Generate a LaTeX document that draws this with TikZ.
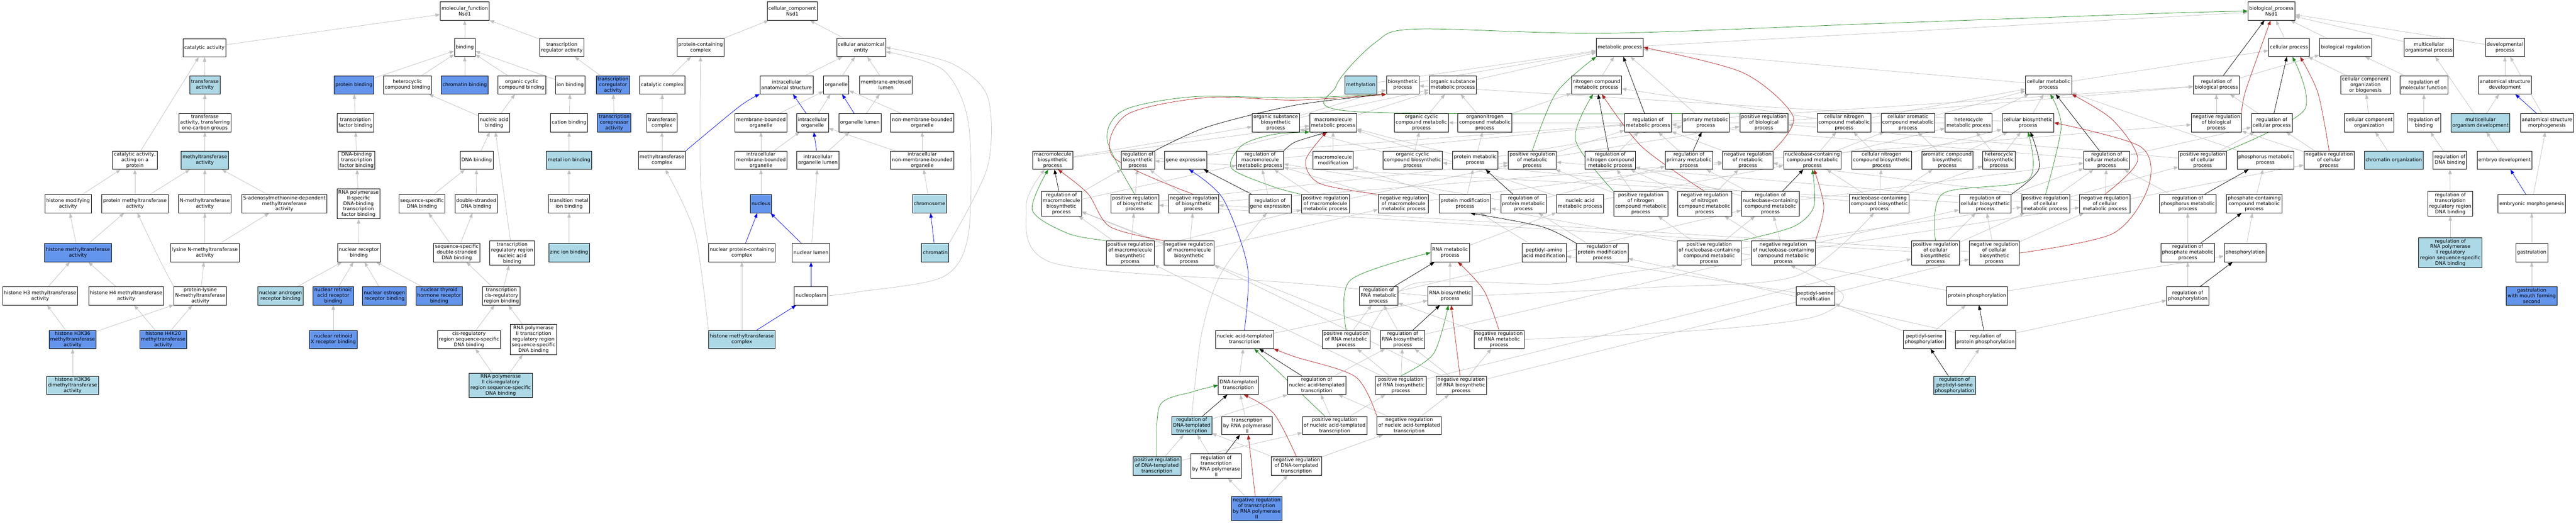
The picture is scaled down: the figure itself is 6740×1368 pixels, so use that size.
\documentclass[tikz,border=0pt]{standalone}
\usepackage{fontspec}
\setmainfont{DejaVu Sans}
\usetikzlibrary{arrows.meta}
\definecolor{lightb}{HTML}{ADD8E6}
\definecolor{cornb}{HTML}{6495ED}
\definecolor{edgegray}{HTML}{C0C0C0}
\definecolor{fgreen}{HTML}{228B22}
\definecolor{fred}{HTML}{B22222}
\pgfdeclarelayer{back}
\pgfdeclarelayer{edges}
\pgfsetlayers{back,edges,main}

\begin{document}
\begin{tikzpicture}[x=1pt,y=-1pt,>={Triangle[length=12pt,width=9pt]},
  term/.style={draw,line width=1pt,fill=white,align=center,inner xsep=3.5pt,inner ysep=1pt,minimum height=48pt,font=\fontsize{12.7}{14.8}\selectfont},
  tall/.style={minimum height=64pt},taller/.style={minimum height=79pt},
  lb/.style={fill=lightb},cb/.style={fill=cornb},
  isa/.style={->,draw=edgegray,line width=1pt},
  partof/.style={->,draw=blue,line width=1pt},
  reg/.style={->,draw=black,line width=1pt},
  preg/.style={->,draw=fgreen,line width=1pt},
  nreg/.style={->,draw=fred,line width=1pt}]
\begin{pgfonlayer}{back}
\fill[white] (0,0) rectangle (6740,1368);
\end{pgfonlayer}
\useasboundingbox (0,0) rectangle (6740,1368);

\node[term] (mf) at (1216,29) {molecular\_function\\Nsd1};
\node[term] (cat) at (535,125) {catalytic activity};
\node[term] (bind) at (1216,124) {binding};
\node[term] (trreg) at (1470,124) {transcription\\regulator activity};
\node[term,lb] (trf) at (536,222) {transferase\\activity};
\node[term,cb] (pbind) at (926,222) {protein binding};
\node[term] (hetb) at (1066,222) {heterocyclic\\compound binding};
\node[term,cb] (chrb) at (1216,222) {chromatin binding};
\node[term] (ocb) at (1365,222) {organic cyclic\\compound binding};
\node[term] (ionb) at (1492,222) {ion binding};
\node[term,cb] (coreg) at (1604,222) {transcription\\coregulator\\activity};
\node[term] (onec) at (536,321) {transferase\\activity, transferring\\one-carbon groups};
\node[term] (tfb) at (930,321) {transcription\\factor binding};
\node[term] (nab) at (1293,321) {nucleic acid\\binding};
\node[term] (catb) at (1489,321) {cation binding};
\node[term,cb] (corep) at (1607,321) {transcription\\corepressor\\activity};
\node[term] (catp) at (353,419) {catalytic activity,\\acting on a\\protein};
\node[term,lb] (mtase) at (536,419) {methyltransferase\\activity};
\node[term] (dtfb) at (933,419) {DNA-binding\\transcription\\factor binding};
\node[term] (dnab) at (1247,419) {DNA binding};
\node[term,lb] (metb) at (1489,419) {metal ion binding};
\node[term] (hmod) at (178,533) {histone modifying\\activity};
\node[term] (pmt) at (353,533) {protein methyltransferase\\activity};
\node[term] (nmt) at (536,533) {N-methyltransferase\\activity};
\node[term] (sam) at (744,533) {S-adenosylmethionine-dependent\\methyltransferase\\activity};
\node[term,taller] (p2tfb) at (938,533) {RNA polymerase\\II-specific\\DNA-binding\\transcription\\factor binding};
\node[term] (ssdna) at (1104,533) {sequence-specific\\DNA binding};
\node[term] (dsdna) at (1246,533) {double-stranded\\DNA binding};
\node[term] (tmb) at (1489,533) {transition metal\\ion binding};
\node[term,cb] (hmt) at (204,661) {histone methyltransferase\\activity};
\node[term] (knmt) at (536,661) {lysine N-methyltransferase\\activity};
\node[term] (nrb) at (939,661) {nuclear receptor\\binding};
\node[term] (ssds) at (1195,661) {sequence-specific\\double-stranded\\DNA binding};
\node[term,tall] (trrna) at (1340,662) {transcription\\regulatory region\\nucleic acid\\binding};
\node[term,lb] (znb) at (1489,661) {zinc ion binding};
\node[term] (h3mt) at (105,774) {histone H3 methyltransferase\\activity};
\node[term] (h4mt) at (330,774) {histone H4 methyltransferase\\activity};
\node[term] (pknmt) at (524,774) {protein-lysine\\N-methyltransferase\\activity};
\node[term,lb] (narb) at (734,774) {nuclear androgen\\receptor binding};
\node[term,cb] (rarb) at (872,774) {nuclear retinoic\\acid receptor\\binding};
\node[term,cb] (erb) at (1006,774) {nuclear estrogen\\receptor binding};
\node[term,cb] (trb) at (1149,774) {nuclear thyroid\\hormone receptor\\binding};
\node[term] (cisb) at (1312,774) {transcription\\cis-regulatory\\region binding};
\node[term,cb] (h3k36) at (190,888) {histone H3K36\\methyltransferase\\activity};
\node[term,cb] (h4k20) at (427,888) {histone H4K20\\methyltransferase\\activity};
\node[term,cb] (rxrb) at (872,888) {nuclear retinoid\\X receptor binding};
\node[term] (crss) at (1227,888) {cis-regulatory\\region sequence-specific\\DNA binding};
\node[term,taller] (p2rr) at (1396,888) {RNA polymerase\\II transcription\\regulatory region\\sequence-specific\\DNA binding};
\node[term,lb] (h3k36d) at (190,1008) {histone H3K36\\dimethyltransferase\\activity};
\node[term,lb,tall] (p2cis) at (1310,1008) {RNA polymerase\\II cis-regulatory\\region sequence-specific\\DNA binding};

\node[term] (cc) at (2073,29) {cellular\_component\\Nsd1};
\node[term] (pcc) at (1833,124) {protein-containing\\complex};
\node[term] (cae) at (2253,124) {cellular anatomical\\entity};
\node[term] (catc) at (1733,222) {catalytic complex};
\node[term] (ias) at (2058,222) {intracellular\\anatomical structure};
\node[term] (org) at (2188,222) {organelle};
\node[term] (mel) at (2318,222) {membrane-enclosed\\lumen};
\node[term] (trfc) at (1732,321) {transferase\\complex};
\node[term] (mbo) at (1991,321) {membrane-bounded\\organelle};
\node[term] (io) at (2126,321) {intracellular\\organelle};
\node[term] (ol) at (2250,321) {organelle lumen};
\node[term] (nmbo) at (2413,321) {non-membrane-bounded\\organelle};
\node[term] (mtc) at (1732,419) {methyltransferase\\complex};
\node[term] (imbo) at (1991,419) {intracellular\\membrane-bounded\\organelle};
\node[term] (iol) at (2140,419) {intracellular\\organelle lumen};
\node[term] (inmbo) at (2413,419) {intracellular\\non-membrane-bounded\\organelle};
\node[term,cb] (nuc) at (1991,533) {nucleus};
\node[term,lb] (chrm) at (2432,533) {chromosome};
\node[term] (npcc) at (1941,661) {nuclear protein-containing\\complex};
\node[term] (nl) at (2122,661) {nuclear lumen};
\node[term,lb] (chrt) at (2447,661) {chromatin};
\node[term] (npl) at (2122,774) {nucleoplasm};
\node[term,lb] (hmtc) at (1941,888) {histone methyltransferase\\complex};

\node[term] (bp) at (5943,29) {biological\_process\\Nsd1};
\node[term] (mp) at (4238,124) {metabolic process};
\node[term] (cp) at (5989,124) {cellular process};
\node[term] (br) at (6137,124) {biological regulation};
\node[term] (mop) at (6355,124) {multicellular\\organismal process};
\node[term] (dp) at (6554,124) {developmental\\process};
\node[term,lb] (meth) at (3560,222) {methylation};
\node[term] (bsp) at (3670,222) {biosynthetic\\process};
\node[term] (osmp) at (3801,222) {organic substance\\metabolic process};
\node[term] (ncmp) at (4177,222) {nitrogen compound\\metabolic process};
\node[term] (cmp) at (5360,222) {cellular metabolic\\process};
\node[term] (rbp) at (5799,222) {regulation of\\biological process};
\node[term] (ccob) at (6189,222) {cellular component\\organization\\or biogenesis};
\node[term] (rmf) at (6342,222) {regulation of\\molecular function};
\node[term] (asd) at (6554,222) {anatomical structure\\development};
\node[term] (osbp) at (3338,321) {organic substance\\biosynthetic\\process};
\node[term] (mmp) at (3488,321) {macromolecule\\metabolic process};
\node[term] (occmp) at (3719,321) {organic cyclic\\compound metabolic\\process};
\node[term] (oncmp) at (3885,321) {organonitrogen\\compound metabolic\\process};
\node[term] (rmp) at (4312,321) {regulation of\\metabolic process};
\node[term] (pmp) at (4463,321) {primary metabolic\\process};
\node[term] (prbp) at (4615,321) {positive regulation\\of biological\\process};
\node[term] (cncmp) at (4825,321) {cellular nitrogen\\compound metabolic\\process};
\node[term] (cacmp) at (4992,321) {cellular aromatic\\compound metabolic\\process};
\node[term] (hcmp) at (5151,321) {heterocycle\\metabolic process};
\node[term] (cbp) at (5306,321) {cellular biosynthetic\\process};
\node[term] (nrbp) at (5799,321) {negative regulation\\of biological\\process};
\node[term] (rcp) at (5944,321) {regulation of\\cellular process};
\node[term] (cco) at (6199,321) {cellular component\\organization};
\node[term] (rbind) at (6342,321) {regulation of\\binding};
\node[term,lb] (mod) at (6490,321) {multicellular\\organism development};
\node[term] (asm) at (6664,321) {anatomical structure\\morphogenesis};
\node[term] (mbp) at (2754,419) {macromolecule\\biosynthetic\\process};
\node[term] (rbsp) at (2977,419) {regulation of\\biosynthetic\\process};
\node[term] (ge) at (3102,419) {gene expression};
\node[term] (rmmp) at (3297,419) {regulation of\\macromolecule\\metabolic process};
\node[term] (mmod) at (3488,419) {macromolecule\\modification};
\node[term] (occbp) at (3696,419) {organic cyclic\\compound biosynthetic\\process};
\node[term] (protmp) at (3860,419) {protein metabolic\\process};
\node[term] (prmp) at (4009,419) {positive regulation\\of metabolic\\process};
\node[term] (rncmp) at (4213,419) {regulation of\\nitrogen compound\\metabolic process};
\node[term] (rpmp) at (4419,419) {regulation of\\primary metabolic\\process};
\node[term] (nrmp) at (4573,419) {negative regulation\\of metabolic\\process};
\node[term] (nbcmp) at (4742,419) {nucleobase-containing\\compound metabolic\\process};
\node[term] (cncbp) at (4923,419) {cellular nitrogen\\compound biosynthetic\\process};
\node[term] (acbp) at (5095,419) {aromatic compound\\biosynthetic\\process};
\node[term] (hcbp) at (5230,419) {heterocycle\\biosynthetic\\process};
\node[term] (rcmp) at (5512,419) {regulation of\\cellular metabolic\\process};
\node[term] (prcp) at (5763,419) {positive regulation\\of cellular\\process};
\node[term] (phmp) at (5927,419) {phosphorus metabolic\\process};
\node[term] (nrcp) at (6094,419) {negative regulation\\of cellular\\process};
\node[term,lb] (chro) at (6263,419) {chromatin organization};
\node[term] (rdnab) at (6410,419) {regulation of\\DNA binding};
\node[term] (ed) at (6553,419) {embryo development};
\node[term,tall] (rmbp) at (2777,533) {regulation of\\macromolecule\\biosynthetic\\process};
\node[term] (prbsp) at (2969,533) {positive regulation\\of biosynthetic\\process};
\node[term] (nrbsp) at (3123,533) {negative regulation\\of biosynthetic\\process};
\node[term] (rge) at (3323,533) {regulation of\\gene expression};
\node[term] (prmmp) at (3468,533) {positive regulation\\of macromolecule\\metabolic process};
\node[term] (nrmmp) at (3672,533) {negative regulation\\of macromolecule\\metabolic process};
\node[term] (pmod) at (3833,533) {protein modification\\process};
\node[term] (rprotmp) at (3986,533) {regulation of\\protein metabolic\\process};
\node[term] (namp) at (4134,533) {nucleic acid\\metabolic process};
\node[term,tall] (prncmp) at (4293,533) {positive regulation\\of nitrogen\\compound metabolic\\process};
\node[term,tall] (nrncmp) at (4460,533) {negative regulation\\of nitrogen\\compound metabolic\\process};
\node[term,tall] (rnbc) at (4632,533) {regulation of\\nucleobase-containing\\compound metabolic\\process};
\node[term] (nbcbp) at (4917,533) {nucleobase-containing\\compound biosynthetic\\process};
\node[term] (rcbp) at (5194,533) {regulation of\\cellular biosynthetic\\process};
\node[term] (prcmp) at (5352,533) {positive regulation\\of cellular\\metabolic process};
\node[term] (nrcmp) at (5507,533) {negative regulation\\of cellular\\metabolic process};
\node[term] (rphmp) at (5724,533) {regulation of\\phosphorus metabolic\\process};
\node[term] (phcmp) at (5898,533) {phosphate-containing\\compound metabolic\\process};
\node[term,tall] (rtrdb) at (6411,533) {regulation of\\transcription\\regulatory region\\DNA binding};
\node[term] (emm) at (6624,533) {embryonic morphogenesis};
\node[term,tall] (prmbp) at (2957,662) {positive regulation\\of macromolecule\\biosynthetic\\process};
\node[term,tall] (nrmbp) at (3111,662) {negative regulation\\of macromolecule\\biosynthetic\\process};
\node[term] (rnamp) at (3794,661) {RNA metabolic\\process};
\node[term] (paam) at (4040,661) {peptidyl-amino\\acid modification};
\node[term] (rpmod) at (4192,661) {regulation of\\protein modification\\process};
\node[term,tall] (prnbc) at (4472,662) {positive regulation\\of nucleobase-containing\\compound metabolic\\process};
\node[term,tall] (nrnbc) at (4666,662) {negative regulation\\of nucleobase-containing\\compound metabolic\\process};
\node[term,tall] (prcbp) at (5064,662) {positive regulation\\of cellular\\biosynthetic\\process};
\node[term,tall] (nrcbp) at (5218,662) {negative regulation\\of cellular\\biosynthetic\\process};
\node[term] (rphosm) at (5724,661) {regulation of\\phosphate metabolic\\process};
\node[term] (phos) at (5874,661) {phosphorylation};
\node[term,lb,taller] (rp2) at (6411,661) {regulation of\\RNA polymerase\\II regulatory\\region sequence-specific\\DNA binding};
\node[term] (gast) at (6624,661) {gastrulation};
\node[term] (rrnamp) at (3607,774) {regulation of\\RNA metabolic\\process};
\node[term] (rnabp) at (3794,774) {RNA biosynthetic\\process};
\node[term] (psm) at (4750,774) {peptidyl-serine\\modification};
\node[term] (pphos) at (5173,774) {protein phosphorylation};
\node[term] (rphos) at (5724,774) {regulation of\\phosphorylation};
\node[term,cb] (gmfs) at (6624,774) {gastrulation\\with mouth forming\\second};
\node[term] (natt) at (3256,888) {nucleic acid-templated\\transcription};
\node[term] (prrnamp) at (3522,888) {positive regulation\\of RNA metabolic\\process};
\node[term] (rrnabp) at (3670,888) {regulation of\\RNA biosynthetic\\process};
\node[term] (nrrnamp) at (3922,888) {negative regulation\\of RNA metabolic\\process};
\node[term] (psp) at (5035,888) {peptidyl-serine\\phosphorylation};
\node[term] (rpphos) at (5195,888) {regulation of\\protein phosphorylation};
\node[term] (dtt) at (3240,1008) {DNA-templated\\transcription};
\node[term] (rnatt) at (3445,1008) {regulation of\\nucleic acid-templated\\transcription};
\node[term] (prrnabp) at (3665,1008) {positive regulation\\of RNA biosynthetic\\process};
\node[term] (nrrnabp) at (3823,1008) {negative regulation\\of RNA biosynthetic\\process};
\node[term,lb] (rpsp) at (5114,1008) {regulation of\\peptidyl-serine\\phosphorylation};
\node[term,lb] (rdtt) at (3118,1113) {regulation of\\DNA-templated\\transcription};
\node[term] (tp2) at (3263,1113) {transcription\\by RNA polymerase\\II};
\node[term] (prnatt) at (3492,1113) {positive regulation\\of nucleic acid-templated\\transcription};
\node[term] (nrnatt) at (3687,1113) {negative regulation\\of nucleic acid-templated\\transcription};
\node[term,lb] (prdtt) at (3027,1219) {positive regulation\\of DNA-templated\\transcription};
\node[term,tall] (rtp2) at (3182,1219) {regulation of\\transcription\\by RNA polymerase\\II};
\node[term] (nrdtt) at (3392,1219) {negative regulation\\of DNA-templated\\transcription};
\node[term,cb,tall] (nrtp2) at (3288,1330) {negative regulation\\of transcription\\by RNA polymerase\\II};

\begin{pgfonlayer}{edges}
\foreach \a/\b in {cat/mf,bind/mf,trreg/mf,trf/cat,catp/cat,pbind/bind,hetb/bind,chrb/bind,ocb/bind,ionb/bind,
  coreg/trreg,corep/coreg,onec/trf,mtase/onec,hmod/catp,pmt/catp,pmt/mtase,nmt/mtase,sam/mtase,hmt/hmod,hmt/pmt,
  knmt/nmt,knmt/sam,pknmt/knmt,h3mt/hmt,h4mt/hmt,h3k36/h3mt,h3k36/pknmt,h4k20/h4mt,h4k20/pknmt,h3k36d/h3k36,
  tfb/pbind,dtfb/tfb,p2tfb/dtfb,nrb/p2tfb,narb/nrb,rarb/nrb,erb/nrb,trb/nrb,rxrb/rarb,nab/hetb,nab/ocb,
  catb/ionb,metb/catb,tmb/metb,znb/tmb,dnab/nab,ssdna/dnab,dsdna/dnab,ssds/ssdna,ssds/dsdna,trrna/nab,
  cisb/ssds,cisb/trrna,crss/cisb,p2rr/cisb,p2cis/crss,p2cis/p2rr}
  \draw[isa] (\a) -- (\b);
\foreach \a/\b in {pcc/cc,cae/cc,catc/pcc,trfc/catc,mtc/trfc,ias/cae,org/cae,mel/cae,mbo/org,io/org,nmbo/org,
  ol/mel,imbo/mbo,imbo/io,iol/ol,inmbo/nmbo,inmbo/io,nuc/imbo,chrm/inmbo,nl/iol,hmtc/npcc}
  \draw[isa] (\a) -- (\b);
\foreach \a/\b in {mp/bp,cp/bp,br/bp,mop/bp,dp/bp,meth/mp,bsp/mp,osmp/mp,ncmp/mp,pmp/mp,cmp/mp,cmp/cp,
  rbp/br,prbp/rbp,nrbp/rbp,ccob/cp,rmf/br,asd/dp,cco/ccob,rbind/rmf,mod/mop,mod/asd,asm/dp,rcp/rbp,prcp/rcp,
  prcp/prbp,nrcp/rcp,nrcp/nrbp,chro/cco,rdnab/rbind,rtrdb/rdnab,rp2/rtrdb,ed/mod,emm/asm,gast/emm,gmfs/gast,
  osbp/bsp,osbp/osmp,mmp/osmp,occmp/osmp,oncmp/osmp,oncmp/ncmp,rmp/rbp,mbp/mmp,mbp/osbp,rbsp/rmp,ge/mmp,
  rmmp/rmp,mmod/mmp,occbp/occmp,occbp/osbp,protmp/oncmp,protmp/mmp,protmp/pmp,prmp/rmp,prmp/prbp,rncmp/rmp,
  rpmp/rmp,nrmp/rmp,nrmp/nrbp,cncmp/ncmp,cncmp/cmp,cacmp/cmp,hcmp/cmp,hcmp/occmp,cbp/cmp,cbp/bsp,
  nbcmp/cncmp,nbcmp/cacmp,nbcmp/hcmp,cncbp/cncmp,cncbp/cbp,acbp/cacmp,acbp/cbp,hcbp/hcmp,hcbp/cbp,
  rcmp/rmp,rcmp/rcp,phmp/cmp,rmbp/rbsp,rmbp/rmmp,prbsp/rbsp,prbsp/prmp,nrbsp/rbsp,nrbsp/nrmp,rge/rmmp,
  prmmp/rmmp,prmmp/prmp,nrmmp/rmmp,nrmmp/nrmp,pmod/protmp,pmod/mmod,rprotmp/rmmp,rprotmp/rpmp,namp/nbcmp,
  namp/mmp,prncmp/rncmp,prncmp/prmp,nrncmp/rncmp,nrncmp/nrmp,rnbc/rcmp,rnbc/rncmp,rnbc/rpmp,nbcbp/nbcmp,
  nbcbp/cncbp,nbcbp/acbp,nbcbp/hcbp,nbcbp/occbp,rcbp/rcmp,rcbp/rbsp,prcmp/rcmp,prcmp/prmp,prcmp/prcp,
  nrcmp/rcmp,nrcmp/nrmp,nrcmp/nrcp,rphmp/rcmp,phcmp/phmp,prmbp/rmbp,prmbp/prbsp,prmbp/prmmp,nrmbp/rmbp,
  nrmbp/nrbsp,nrmbp/nrmmp,rnamp/namp,paam/pmod,rpmod/rprotmp,prnbc/rnbc,prnbc/prncmp,prnbc/prcmp,
  nrnbc/rnbc,nrnbc/nrncmp,nrnbc/nrcmp,prcbp/rcbp,prcbp/prcmp,prcbp/prbsp,nrcbp/rcbp,nrcbp/nrcmp,nrcbp/nrbsp,
  rphosm/rphmp,phos/phcmp,rrnamp/rnbc,rnabp/rnamp,psm/paam,pphos/pmod,pphos/phos,rphos/rphosm,
  natt/rnabp,prrnamp/rrnamp,rrnabp/rrnamp,rrnabp/rcbp,rrnabp/rmbp,nrrnamp/rrnamp,
  psp/psm,psp/pphos,rpphos/rphos,rpphos/rpmod,dtt/natt,rnatt/rrnabp,prrnabp/rrnabp,prrnabp/prrnamp,
  prrnabp/prcbp,prrnabp/prmbp,nrrnabp/rrnabp,nrrnabp/nrrnamp,nrrnabp/nrcbp,nrrnabp/nrmbp,rpsp/rpphos,
  rdtt/rnatt,tp2/dtt,prnatt/rnatt,prnatt/prrnabp,nrnatt/rnatt,nrnatt/nrrnabp,prdtt/rdtt,prdtt/prnatt,
  rtp2/rdtt,nrdtt/rdtt,nrdtt/nrnatt,nrtp2/rtp2,nrtp2/nrdtt}
  \draw[isa] (\a) -- (\b);
\draw[isa] plot[smooth] coordinates {(pknmt.north west) (418,680) (pmt.-75)};
\draw[isa] plot[smooth] coordinates {(npcc.north west) (1833,471) (pcc.south)};
\draw[isa] plot[smooth] coordinates {(hmtc.north west) (1818,611) (mtc.-70)};
\draw[isa] plot[smooth] coordinates {(chrt.north east) (2584,436) (2584,253) (2490,166) (cae.east)};
\draw[isa] plot[smooth] coordinates {(npl.east) (2250,763) (2468,724) (2534,611) (2534,323) (2468,183) (cae.-10)};
\draw[isa] plot[smooth] coordinates {(rnabp.west) (3380,740) (2759,689) (2685,541) (mbp.-130)};
\draw[isa] plot[smooth] coordinates {(rdtt.north) (3144,873) (3195,715) (rge.-110)};
\draw[isa] plot[smooth] coordinates {(rnabp.east) (4320,752) (4700,722) (nbcbp.-120)};
\draw[isa] plot[smooth] coordinates {(nrrnamp.east) (4325,872) (4593,852) (4760,825) (4822,770) (nrnbc.-60)};
\draw[isa] plot[smooth] coordinates {(prrnamp.north east) (3700,742) (4057,743) (4236,716) (prnbc.south west)};

\foreach \a/\b in {io/ias,ol/org,iol/io,npcc/nuc,nl/nuc,npl/nl,hmtc/npl,chrt/chrm,asm/asd,emm/ed}
  \draw[partof] (\a) -- (\b);
\draw[partof] plot[smooth] coordinates {(mtc.north east) (1934,279) (ias.south west)};
\draw[partof] plot[smooth] coordinates {(natt.north) (3264,698) (3200,520) (ge.-70)};

\foreach \a/\b in {rbp/bp,rcp/cp,rmp/mp,rncmp/ncmp,rpmp/pmp,rprotmp/protmp,rmbp/mbp,rge/ge,rrnamp/rnamp,
  rrnabp/rnabp,rnatt/natt,rdtt/dtt,rtp2/tp2,rnbc/nbcmp,rcmp/cmp,rphmp/phmp,rphosm/phcmp,rphos/phos,
  rpphos/pphos,rpsp/psp}
  \draw[reg] (\a) -- (\b);
\draw[reg] plot[smooth] coordinates {(rbsp.north east) (3159,332) (3390,275) (bsp.south west)};
\draw[reg] plot[smooth] coordinates {(rmmp.north east) (3390,371) (mmp.-120)};
\draw[reg] plot[smooth] coordinates {(rcbp.north east) (5335,441) (cbp.-75)};
\draw[reg] plot[smooth] coordinates {(rpmod.north west) (4034,593) (pmod.-60)};

\draw[preg] (prnatt) -- (natt);
\draw[preg] plot[smooth] coordinates {(prbp.north west) (3547,292) (3496,225) (3600,110) (3707,76) (4200,87) (4900,62) (5650,35) (bp.west)};
\draw[preg] plot[smooth] coordinates {(prmmp.north west) (3330,488) (3222,440) (3250,380) (3330,352) (mmp.south west)};
\draw[preg] plot[smooth] coordinates {(prbsp.north) (2897,366) (2941,288) (3123,253) (3390,256) (bsp.south west)};
\draw[preg] plot[smooth] coordinates {(prmbp.north west) (2795,611) (2701,550) (mbp.-115)};
\draw[preg] plot[smooth] coordinates {(prdtt.north) (3035,1060) (3120,1025) (dtt.west)};
\draw[preg] plot[smooth] coordinates {(prmp.north) (4071,244) (mp.south west)};
\draw[preg] plot[smooth] coordinates {(prncmp.north west) (4122,366) (ncmp.-110)};
\draw[preg] plot[smooth] coordinates {(prrnamp.north) (3533,733) (rnamp.west)};
\draw[preg] plot[smooth] coordinates {(prrnabp.north) (3751,925) (rnabp.-100)};
\draw[preg] plot[smooth] coordinates {(prnbc.north east) (4692,593) (4746,540) (nbcmp.south)};
\draw[preg] plot[smooth] coordinates {(prcbp.north) (5084,506) (5306,471) (cbp.south)};
\draw[preg] plot[smooth] coordinates {(prcmp.north) (5393,332) (cmp.-80)};
\draw[preg] plot[smooth] coordinates {(prcp.north east) (6029,288) (cp.-70)};

\draw[nreg] (nrtp2) -- (tp2);
\draw[nreg] (nrrnabp) -- (rnabp);
\draw[nreg] plot[smooth] coordinates {(nrbp.north east) (5876,236) (bp.-95)};
\draw[nreg] plot[smooth] coordinates {(nrmmp.north west) (3453,480) (3416,420) (mmp.-125)};
\draw[nreg] plot[smooth] coordinates {(nrbsp.north) (2912,410) (2948,300) (3159,255) (3390,262) (bsp.south west)};
\draw[nreg] plot[smooth] coordinates {(nrmbp.north west) (2904,593) (2846,506) (mbp.-60)};
\draw[nreg] plot[smooth] coordinates {(nrdtt.north) (3333,1082) (dtt.-60)};
\draw[nreg] plot[smooth] coordinates {(nrnatt.north west) (3547,986) (3390,934) (natt.south east)};
\draw[nreg] plot[smooth] coordinates {(nrmp.north east) (4692,305) (4560,190) (mp.east)};
\draw[nreg] plot[smooth] coordinates {(nrncmp.north) (4296,384) (ncmp.-60)};
\draw[nreg] plot[smooth] coordinates {(nrrnamp.north) (3882,759) (rnamp.-50)};
\draw[nreg] plot[smooth] coordinates {(nrnbc.north east) (4772,541) (nbcmp.-80)};
\draw[nreg] plot[smooth] coordinates {(nrcmp.north) (5593,419) (5528,314) (cmp.south east)};
\draw[nreg] plot[smooth] coordinates {(nrcbp.east) (5528,611) (5621,489) (5601,384) (cbp.east)};
\draw[nreg] plot[smooth] coordinates {(nrcp.north) (6065,244) (cp.-40)};
\end{pgfonlayer}
\end{tikzpicture}
\end{document}
